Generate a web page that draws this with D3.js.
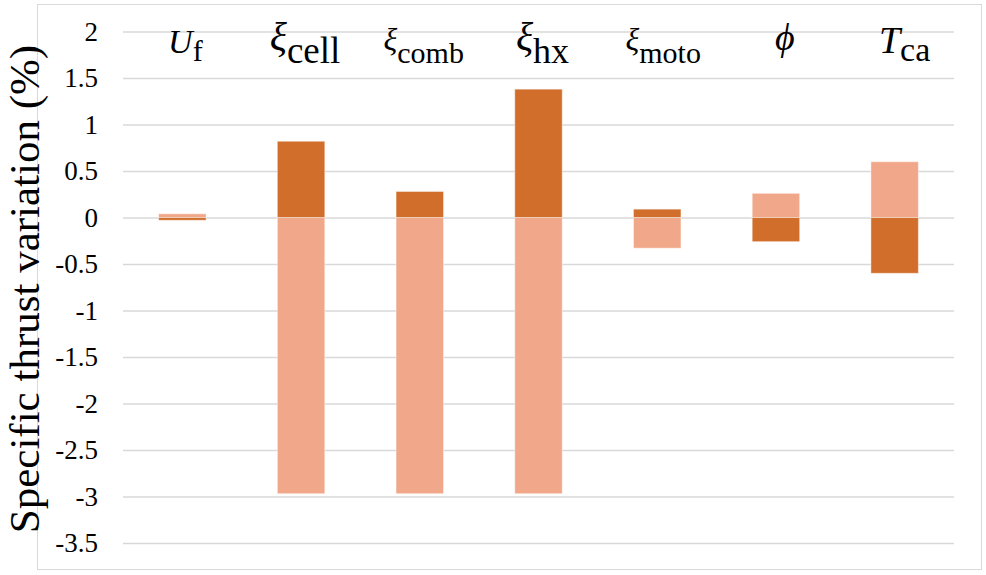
<!DOCTYPE html>
<html>
<head>
<meta charset="utf-8">
<script src="https://cdn.jsdelivr.net/npm/d3@7"></script>
<style>
  body { margin: 0; background: #fff; }
</style>
</head>
<body>
<div id="chart"></div>
<script>
// parameters along the x axis
var categories = ["Uf", "xi_cell", "xi_comb", "xi_hx", "xi_moto", "phi", "Tca"];
// label pieces: main symbol and subscript
var labelMain = ["U", "\u03BE", "\u03BE", "\u03BE", "\u03BE", "\u03D5", "T"];
var labelSub  = ["f", "cell", "comb", "hx", "moto", "", "ca"];

// two series (dark and light bars), values in %
var darkValues  = [-0.03, 0.82, 0.28, 1.38, 0.09, -0.26, -0.60];
var lightValues = [0.04, -2.97, -2.97, -2.97, -0.33, 0.26, 0.60];

var yTicks = [2, 1.5, 1, 0.5, 0, -0.5, -1, -1.5, -2, -2.5, -3, -3.5];

// label font sizes / nudges (style only)
var mainSize = [34, 40, 32, 40, 32, 38, 38];
var subSize  = [30, 37, 30, 36, 30, 0, 34];
var labelNudge = [3, 4, 4, 4, 6, 9, 10];

var FONT = "Liberation Serif";
var W = 986, H = 575;
var plot = {left: 123, right: 954, top: 31.5, bottom: 543};

var svg = d3.select("#chart")
  .append("svg")
    .attr("width", W)
    .attr("height", H)
    .attr("font-family", FONT)
    .style("display", "block");

// outer frame
svg.append("rect")
  .attr("x", 37.5).attr("y", 4.5)
  .attr("width", 944).attr("height", 565)
  .attr("fill", "none")
  .attr("stroke", "#d9d9d9")
  .attr("stroke-width", 1);

var x = d3.scaleBand()
  .domain(categories)
  .range([plot.left, plot.right])
  .paddingInner(0.6)
  .paddingOuter(0.3);

var y = d3.scaleLinear()
  .domain([-3.5, 2])
  .range([plot.bottom, plot.top]);

// gridlines + tick labels
var yAxis = svg.append("g")
  .attr("transform", "translate(" + plot.left + ",0)")
  .call(d3.axisLeft(y)
    .tickValues(yTicks)
    .tickSize(-(plot.right - plot.left))
    .tickPadding(25)
    .tickFormat(function(d) { return String(d); }));
yAxis.attr("font-family", FONT).attr("font-size", 27).attr("text-anchor", null);
yAxis.select(".domain").remove();
yAxis.selectAll(".tick line")
  .attr("stroke", "#d9d9d9")
  .attr("stroke-width", 1.5);
// right-align by hand
yAxis.selectAll(".tick text")
  .attr("fill", "#000")
  .attr("x", function() { return -25 - this.getComputedTextLength(); });

// bars: light series then dark series
function bars(values, color, cls) {
  svg.selectAll("rect." + cls)
    .data(values)
    .enter()
    .append("rect")
    .attr("class", cls)
    .attr("x", function(d, i) { return x(categories[i]); })
    .attr("y", function(d) { return y(Math.max(0, d)); })
    .attr("width", x.bandwidth())
    .attr("height", function(d) { return Math.abs(y(d) - y(0)); })
    .attr("fill", color)
    .attr("stroke", "rgba(255,255,255,0.45)")
    .attr("stroke-width", 1);
}
bars(lightValues, "#f1a88a", "light");
bars(darkValues, "#d26e2b", "dark");

// category labels at top
var labels = svg.selectAll("text.cat")
  .data(categories)
  .enter()
  .append("text")
  .attr("class", "cat")
  .attr("y", function(d, i) { return i == 0 || i == 6 ? 53 : 50; })
  .attr("fill", "#000");

labels.append("tspan")
  .attr("font-style", "italic")
  .attr("font-size", function(d, i) { return mainSize[i]; })
  .text(function(d, i) { return labelMain[i]; });

labels.append("tspan")
  .attr("dy", function(d, i) { return i == 0 || i == 6 ? 8 : 13; })
  .attr("font-size", function(d, i) { return subSize[i] || 10; })
  .text(function(d, i) { return labelSub[i]; });

labels.attr("x", function(d, i) {
  return x(d) + x.bandwidth() / 2 + labelNudge[i] - this.getComputedTextLength() / 2;
});

// y axis title
var title = svg.append("text")
  .attr("font-size", 43)
  .attr("fill", "#000")
  .text("Specific thrust variation (%)");
title.attr("transform", "translate(39," + (289 + title.node().getComputedTextLength() / 2) + ") rotate(-90)");
</script>
</body>
</html>
